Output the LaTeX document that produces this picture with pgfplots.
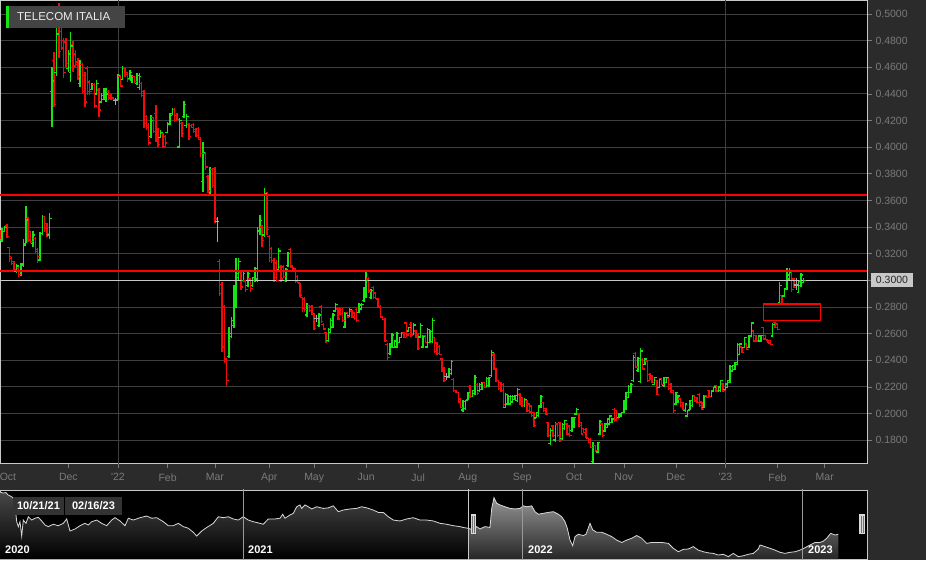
\documentclass[border=0pt]{standalone}
\usepackage{pgfplots}
\pgfplotsset{compat=1.18}
\usepackage{pgfplotstable}
\usepackage{fontspec}
\setmainfont{Liberation Sans}

\definecolor{bg}{HTML}{2B2B2B}
\definecolor{gridc}{HTML}{3E3E3E}
\definecolor{framec}{HTML}{C8C8C8}
\definecolor{upc}{RGB}{20,230,20}
\definecolor{dnc}{RGB}{245,10,10}
\definecolor{flc}{HTML}{A8A8A8}
\definecolor{tickc}{HTML}{7A7A7A}
\definecolor{titlebg}{HTML}{444444}
\definecolor{labbg}{HTML}{C8C8C8}
\definecolor{navline}{HTML}{D8D8D8}
\definecolor{sepc}{HTML}{9A9A9A}
\definecolor{datebg}{HTML}{333333}

\pgfdeclareplotmark{otick}{\pgfpathmoveto{\pgfqpoint{-2.2pt}{0pt}}\pgfpathlineto{\pgfqpoint{0pt}{0pt}}\pgfusepathqstroke}
\pgfdeclareplotmark{ctick}{\pgfpathmoveto{\pgfqpoint{0pt}{0pt}}\pgfpathlineto{\pgfqpoint{2.2pt}{0pt}}\pgfusepathqstroke}

% #1 = lower:upper bound for the kind column, #2 = colour
\newcommand{\ohlc}[2]{%
  \addplot[draw=none, mark=none, restrict expr to domain={\thisrow{k}}{#1},
    error bars/.cd, y dir=plus, y explicit, error mark=none,
    error bar style={draw=#2, line width=1.4pt}]
    table[x=i, y=l, y error expr=\thisrow{h}-\thisrow{l}] {\bars};
  \addplot[only marks, mark=otick, draw=#2, mark options={solid, draw=#2, line width=1.3pt},
    restrict expr to domain={\thisrow{k}}{#1}]
    table[x=i, y=o] {\bars};
  \addplot[only marks, mark=ctick, draw=#2, mark options={solid, draw=#2, line width=1.3pt},
    restrict expr to domain={\thisrow{k}}{#1}]
    table[x=i, y=c] {\bars};
}

% daily bars: index (0 = 21 Oct 2021), open, high, low, close, kind (1 up, -1 down, 0 unchanged)
\pgfplotstableread{
i o h l c k
0 .3366 .3378 .3303 .3316 -1
1 .3303 .3391 .3291 .3366 1
2 .3366 .3408 .3366 .3398 1
3 .3408 .3423 .3316 .3328 -1
4 .3248 .3248 .3141 .3178 -1
5 .3166 .3178 .3116 .3128 -1
6 .3141 .3148 .3066 .3078 -1
7 .3066 .3123 .3058 .3108 1
8 .3091 .3098 .3023 .3041 -1
9 .3041 .3133 .3033 .3123 1
10 .3116 .3308 .3103 .3266 1
11 .3278 .3558 .3278 .3453 1
12 .3466 .3473 .3286 .3303 -1
13 .3366 .3373 .3278 .3291 -1
14 .3278 .3373 .3248 .3341 1
15 .3316 .3328 .3203 .3218 -1
16 .3233 .3241 .3133 .3178 -1
17 .3153 .3366 .3148 .3353 1
18 .3353 .3491 .3341 .3478 1
19 .3478 .3478 .3366 .3391 -1
20 .3428 .3433 .3328 .3353 -1
21 .3341 .3508 .3308 .3466 1
22 .4420 .4605 .4149 .4497 1
23 .4650 .4717 .4299 .4320 -1
24 .4560 .4917 .4534 .4850 1
25 .4950 .5085 .4667 .4720 -1
26 .4870 .4892 .4730 .4745 -1
27 .4800 .4817 .4517 .4560 -1
28 .4790 .4817 .4605 .4630 -1
29 .4590 .4730 .4567 .4700 1
30 .4560 .4862 .4492 .4760 1
31 .4770 .4800 .4567 .4610 -1
32 .4700 .4730 .4605 .4620 -1
33 .4640 .4667 .4504 .4530 -1
34 .4480 .4655 .4454 .4620 1
35 .4620 .4630 .4404 .4420 -1
36 .4540 .4567 .4304 .4340 -1
37 .4590 .4612 .4392 .4420 -1
38 .4490 .4504 .4392 .4420 -1
39 .4435 .4479 .4429 .4470 1
40 .4470 .4479 .4292 .4310 -1
41 .4400 .4504 .4392 .4480 1
42 .4430 .4442 .4229 .4280 -1
43 .4340 .4404 .4329 .4390 1
44 .4360 .4442 .4354 .4420 1
45 .4360 .4442 .4342 .4400 1
46 .4420 .4429 .4354 .4370 -1
47 .4390 .4397 .4354 .4365 -1
48 .4375 .4380 .4354 .4360 -1
49 .4350 .4367 .4317 .4350 0
50 .4360 .4549 .4354 .4540 1
51 .4530 .4542 .4449 .4460 -1
52 .4510 .4609 .4504 .4590 1
53 .4590 .4592 .4530 .4545 -1
54 .4560 .4567 .4492 .4510 -1
55 .4515 .4580 .4504 .4560 1
56 .4500 .4542 .4480 .4530 1
57 .4530 .4535 .4480 .4495 -1
58 .4480 .4555 .4467 .4540 1
59 .4450 .4555 .4429 .4530 1
60 .4480 .4492 .4379 .4390 -1
61 .4420 .4429 .4141 .4180 -1
62 .4230 .4241 .4129 .4150 -1
63 .4160 .4179 .4016 .4030 -1
64 .4080 .4241 .4066 .4200 1
65 .4220 .4229 .4104 .4120 -1
66 .4250 .4317 .4041 .4060 -1
67 .4130 .4141 .4004 .4020 -1
68 .4070 .4129 .4066 .4110 1
69 .4100 .4104 .3991 .4000 -1
70 .4080 .4091 .4004 .4030 -1
71 .4110 .4191 .4104 .4180 1
72 .4170 .4254 .4166 .4240 1
73 .4250 .4292 .4242 .4285 1
74 .4285 .4292 .4191 .4200 -1
75 .4240 .4254 .4204 .4210 -1
76 .4000 .4216 .3990 .4200 1
77 .4180 .4192 .4079 .4100 -1
78 .4230 .4347 .4217 .4320 1
79 .4160 .4247 .4147 .4230 1
80 .4170 .4179 .4054 .4080 -1
81 .4165 .4172 .4142 .4150 -1
82 .4170 .4179 .4104 .4120 -1
83 .4135 .4142 .4079 .4090 -1
84 .4140 .4154 .4054 .4070 -1
85 .4060 .4072 .3929 .3950 -1
86 .3740 .4042 .3666 .3960 1
87 .3950 .3967 .3829 .3850 -1
88 .3780 .3791 .3654 .3670 -1
89 .3670 .3854 .3641 .3830 1
90 .3830 .3842 .3691 .3710 -1
91 .3840 .3854 .3428 .3460 -1
92 .3440 .3478 .3291 .3440 0
93 .3140 .3158 .2883 .2900 -1
94 .2970 .2990 .2465 .2500 -1
95 .2800 .2815 .2378 .2410 -1
96 .2390 .2400 .2203 .2250 -1
97 .2430 .2653 .2415 .2600 1
98 .2580 .2728 .2565 .2700 1
99 .2660 .2965 .2640 .2930 1
100 .2800 .3165 .2790 .3050 1
101 .3020 .3165 .3003 .3140 1
102 .3060 .3078 .2928 .2950 -1
103 .3000 .3065 .2990 .3050 1
104 .2995 .3003 .2915 .2930 -1
105 .2960 .3078 .2950 .3050 1
106 .3010 .3015 .2915 .2940 -1
107 .2960 .3028 .2953 .3020 1
108 .3000 .3103 .2990 .3090 1
109 .3010 .3403 .2990 .3370 1
110 .3370 .3491 .3341 .3450 1
111 .3400 .3416 .3253 .3300 -1
112 .3340 .3691 .3328 .3650 1
113 .3640 .3666 .3341 .3380 -1
114 .3330 .3341 .3141 .3170 -1
115 .3240 .3253 .3128 .3150 -1
116 .3150 .3166 .2990 .3020 -1
117 .3130 .3153 .2990 .3000 -1
118 .3080 .3241 .3065 .3220 1
119 .3100 .3115 .2990 .3010 -1
120 .3100 .3115 .3015 .3030 -1
121 .3000 .3090 .2990 .3080 1
122 .3110 .3216 .3103 .3200 1
123 .3230 .3241 .3090 .3110 -1
124 .3100 .3103 .3078 .3085 -1
125 .3080 .3090 .2978 .2990 -1
126 .3030 .3040 .2978 .2985 -1
127 .2975 .2978 .2878 .2890 -1
128 .2870 .2878 .2765 .2790 -1
129 .2860 .2878 .2765 .2780 -1
130 .2740 .2828 .2728 .2810 1
131 .2810 .2815 .2765 .2775 -1
132 .2805 .2815 .2740 .2750 -1
133 .2745 .2752 .2627 .2640 -1
134 .2715 .2740 .2690 .2715 0
135 .2660 .2752 .2652 .2740 1
136 .2800 .2815 .2677 .2690 -1
137 .2670 .2677 .2627 .2635 -1
138 .2610 .2615 .2527 .2540 -1
139 .2550 .2640 .2540 .2630 1
140 .2610 .2715 .2602 .2700 1
141 .2650 .2752 .2640 .2740 1
142 .2770 .2828 .2765 .2820 1
143 .2785 .2790 .2702 .2710 -1
144 .2785 .2790 .2740 .2750 -1
145 .2780 .2790 .2690 .2700 -1
146 .2650 .2765 .2640 .2750 1
147 .2760 .2765 .2715 .2725 -1
148 .2735 .2790 .2727 .2780 1
149 .2770 .2777 .2715 .2725 -1
150 .2755 .2765 .2702 .2715 -1
151 .2780 .2790 .2689 .2700 -1
152 .2760 .2827 .2752 .2815 1
153 .2785 .2827 .2777 .2820 1
154 .2850 .2952 .2840 .2940 1
155 .2900 .3065 .2865 .3000 1
156 .3010 .3027 .2902 .2920 -1
157 .2870 .2932 .2857 .2925 1
158 .2945 .2957 .2857 .2870 -1
159 .2905 .2914 .2857 .2865 -1
160 .2860 .2864 .2789 .2795 -1
161 .2805 .2814 .2714 .2725 -1
162 .2725 .2727 .2702 .2705 -1
163 .2705 .2714 .2539 .2550 -1
164 .2520 .2527 .2401 .2420 -1
165 .2450 .2527 .2440 .2510 1
166 .2500 .2602 .2489 .2590 1
167 .2495 .2552 .2489 .2545 1
168 .2500 .2614 .2489 .2600 1
169 .2535 .2577 .2527 .2570 1
170 .2570 .2614 .2564 .2605 1
171 .2605 .2614 .2564 .2570 -1
172 .2680 .2689 .2577 .2590 -1
173 .2620 .2652 .2614 .2645 1
174 .2670 .2689 .2577 .2590 -1
175 .2595 .2677 .2589 .2665 1
176 .2620 .2627 .2564 .2570 -1
177 .2595 .2602 .2476 .2490 -1
178 .2575 .2677 .2564 .2660 1
179 .2500 .2589 .2489 .2580 1
180 .2585 .2589 .2527 .2535 -1
181 .2500 .2639 .2489 .2630 1
182 .2535 .2627 .2527 .2615 1
183 .2540 .2714 .2527 .2700 1
184 .2570 .2577 .2452 .2465 -1
185 .2530 .2539 .2439 .2450 -1
186 .2505 .2514 .2439 .2445 -1
187 .2410 .2414 .2314 .2325 -1
188 .2345 .2351 .2238 .2250 -1
189 .2275 .2301 .2251 .2275 0
190 .2270 .2339 .2264 .2330 1
191 .2300 .2401 .2289 .2390 1
192 .2255 .2264 .2163 .2175 -1
193 .2172 .2176 .2151 .2155 -1
194 .2158 .2163 .2076 .2085 -1
195 .2108 .2113 .2038 .2045 -1
196 .2025 .2101 .2013 .2090 1
197 .2035 .2101 .2026 .2095 1
198 .2105 .2163 .2101 .2155 1
199 .2205 .2214 .2113 .2125 -1
200 .2130 .2176 .2126 .2170 1
201 .2150 .2289 .2139 .2270 1
202 .2220 .2226 .2139 .2150 -1
203 .2170 .2226 .2163 .2215 1
204 .2180 .2239 .2176 .2230 1
205 .2235 .2239 .2189 .2195 -1
206 .2195 .2276 .2189 .2265 1
207 .2210 .2276 .2201 .2270 1
208 .2285 .2476 .2276 .2460 1
209 .2440 .2451 .2326 .2340 -1
210 .2335 .2339 .2239 .2250 -1
211 .2245 .2251 .2176 .2185 -1
212 .2235 .2239 .2163 .2170 -1
213 .2215 .2226 .2051 .2065 -1
214 .2045 .2151 .2038 .2140 1
215 .2070 .2138 .2063 .2130 1
216 .2070 .2138 .2063 .2125 1
217 .2085 .2138 .2076 .2130 1
218 .2105 .2138 .2101 .2135 1
219 .2095 .2189 .2089 .2180 1
220 .2145 .2151 .2063 .2075 -1
221 .2120 .2126 .2051 .2060 -1
222 .2058 .2113 .2051 .2105 1
223 .2095 .2101 .2013 .2020 -1
224 .2070 .2076 .2001 .2010 -1
225 .2055 .2064 .1976 .1985 -1
226 .2005 .2013 .1901 .1910 -1
227 .1965 .2013 .1963 .2005 1
228 .1985 .2064 .1976 .2055 1
229 .2045 .2138 .2038 .2130 1
230 .2080 .2088 .2013 .2020 -1
231 .2035 .2038 .1988 .1995 -1
232 .1930 .1938 .1826 .1835 -1
233 .1775 .1888 .1763 .1870 1
234 .1905 .1913 .1826 .1835 -1
235 .1800 .1938 .1788 .1925 1
236 .1920 .1926 .1826 .1835 -1
237 .1930 .1938 .1788 .1800 -1
238 .1810 .1926 .1800 .1915 1
239 .1885 .1951 .1876 .1945 1
240 .1920 .1926 .1838 .1845 -1
241 .1905 .1913 .1826 .1835 -1
242 .1870 .1976 .1863 .1965 1
243 .1895 .1976 .1888 .1970 1
244 .1995 .2038 .1988 .2030 1
245 .1995 .2001 .1901 .1910 -1
246 .1930 .1938 .1838 .1845 -1
247 .1885 .1888 .1851 .1855 -1
248 .1880 .1888 .1813 .1820 -1
249 .1810 .1813 .1775 .1780 -1
250 .1805 .1813 .1738 .1745 -1
251 .1640 .1788 .1625 .1760 1
252 .1758 .1763 .1713 .1720 -1
253 .1710 .1788 .1700 .1780 1
254 .1845 .1951 .1838 .1940 1
255 .1920 .1926 .1826 .1835 -1
256 .1868 .1926 .1863 .1920 1
257 .1895 .1963 .1888 .1958 1
258 .1920 .1988 .1913 .1980 1
259 .1930 .1963 .1926 .1958 1
260 .2030 .2038 .1938 .1950 -1
261 .2020 .2026 .1951 .1960 -1
262 .1968 .2001 .1963 .1995 1
263 .1980 .2013 .1976 .2008 1
264 .2005 .2101 .2001 .2095 1
265 .2030 .2164 .2026 .2155 1
266 .2120 .2214 .2113 .2205 1
267 .2160 .2226 .2151 .2220 1
268 .2245 .2439 .2239 .2420 1
269 .2450 .2464 .2339 .2350 -1
270 .2325 .2426 .2314 .2415 1
271 .2240 .2489 .2226 .2470 1
272 .2405 .2414 .2326 .2335 -1
273 .2368 .2414 .2364 .2408 1
274 .2395 .2401 .2239 .2250 -1
275 .2295 .2301 .2251 .2258 -1
276 .2285 .2289 .2226 .2232 -1
277 .2220 .2276 .2214 .2270 1
278 .2245 .2251 .2138 .2145 -1
279 .2195 .2264 .2189 .2258 1
280 .2260 .2264 .2214 .2220 -1
281 .2210 .2276 .2201 .2270 1
282 .2232 .2276 .2226 .2272 1
283 .2260 .2264 .2176 .2185 -1
284 .2220 .2226 .2151 .2158 -1
285 .2170 .2176 .2001 .2020 -1
286 .2070 .2164 .2064 .2155 1
287 .2082 .2138 .2076 .2132 1
288 .2108 .2113 .2051 .2058 -1
289 .2082 .2088 .2026 .2032 -1
290 .2020 .2076 .2013 .2070 1
291 .1982 .2026 .1976 .2020 1
292 .2030 .2101 .2026 .2095 1
293 .2058 .2138 .2051 .2130 1
294 .2132 .2138 .2088 .2094 -1
295 .2120 .2126 .2076 .2082 -1
296 .2145 .2151 .2051 .2060 -1
297 .2085 .2089 .2026 .2032 -1
298 .2045 .2139 .2039 .2132 1
299 .2135 .2139 .2114 .2118 -1
300 .2172 .2176 .2126 .2130 -1
301 .2130 .2176 .2126 .2172 1
302 .2168 .2201 .2164 .2198 1
303 .2210 .2214 .2164 .2168 -1
304 .2168 .2201 .2164 .2198 1
305 .2170 .2251 .2164 .2245 1
306 .2222 .2226 .2164 .2170 -1
307 .2180 .2226 .2176 .2222 1
308 .2195 .2251 .2189 .2248 1
309 .2232 .2364 .2226 .2355 1
310 .2320 .2364 .2314 .2358 1
311 .2330 .2389 .2326 .2385 1
312 .2370 .2527 .2364 .2520 1
313 .2445 .2527 .2439 .2522 1
314 .2498 .2502 .2452 .2458 -1
315 .2495 .2577 .2489 .2570 1
316 .2522 .2527 .2477 .2482 -1
317 .2495 .2589 .2489 .2580 1
318 .2582 .2689 .2577 .2680 1
319 .2620 .2627 .2539 .2545 -1
320 .2585 .2589 .2539 .2545 -1
321 .2545 .2589 .2539 .2582 1
322 .2545 .2589 .2539 .2585 1
323 .2645 .2652 .2552 .2560 -1
324 .2585 .2589 .2552 .2556 -1
325 .2550 .2552 .2527 .2530 -1
326 .2548 .2552 .2515 .2520 -1
327 .2582 .2677 .2577 .2670 1
328 .2685 .2690 .2640 .2645 -1
329 .2672 .2677 .2627 .2632 -1
330 .2835 .2990 .2827 .2960 1
331 .2885 .2890 .2815 .2822 -1
332 .2882 .2940 .2877 .2935 1
333 .2935 .3090 .2927 .3040 1
334 .3010 .3090 .3002 .3060 1
335 .3070 .3077 .2915 .2930 -1
336 .3010 .3015 .2940 .2945 -1
337 .2965 .3015 .2927 .2965 0
338 .2910 .3002 .2902 .2995 1
339 .2960 .3052 .2952 .3040 1
340 .2982 .3015 .2977 .3000 1
}\bars

% navigator closes (x = position along the navigator, y = price)
\pgfplotstableread{
x y
0 .521
3 .515
6 .518
8 .505
10 .500
13 .490
15 .450
16.7 .358
18.3 .331
20 .358
21.7 .279
23.3 .367
26 .349
28.3 .385
31.7 .367
35 .377
38.3 .382
41.7 .362
45 .340
48.3 .331
53.3 .344
58.3 .336
63.3 .349
66.7 .373
70 .307
75 .318
80 .336
85 .349
88.3 .340
91.7 .358
96.7 .367
101.7 .349
106.7 .336
111.7 .367
115 .380
120 .362
125 .336
128.3 .377
133.3 .367
140 .380
146.7 .389
151.7 .377
156.7 .380
163.3 .358
168.3 .336
173.3 .336
178.3 .349
183.3 .331
188.3 .322
193.3 .300
196.7 .279
201.7 .307
206.7 .326
213.3 .349
218.3 .385
223.3 .380
228.3 .385
233.3 .373
238.3 .367
243.3 .385
248.3 .367
253.3 .358
260 .349
263.3 .344
268.3 .373
275 .373
280 .377
282.7 .399
285 .377
290 .395
293.3 .404
296.7 .440
300 .450
301.7 .431
305 .450
308.3 .440
311.7 .428
316.7 .440
323.3 .431
328.3 .434
333.3 .445
338.3 .413
343.3 .422
350 .428
356.7 .431
361.7 .440
366.7 .434
373.3 .422
378.3 .409
383.3 .409
388.3 .385
393.3 .367
400 .362
406.7 .373
413.3 .380
420 .367
426.7 .367
433.3 .362
440 .349
446.7 .344
453.3 .336
460 .331
463.3 .326
468 .322
}\navA

\pgfplotstableread{
x y
468 .322
473.3 .313
476.7 .331
480 .318
485 .331
490 .326
491.7 .431
494 .490
496.7 .459
500 .450
505 .440
510 .431
515 .428
520 .431
523.3 .445
526.7 .440
531.7 .445
535 .413
538.3 .399
543.3 .404
548.3 .409
553.3 .413
558.3 .399
561.7 .385
565 .358
567.3 .322
570 .257
572.7 .226
575 .276
578.3 .289
583.3 .282
586 .289
590 .349
592.7 .313
596.7 .300
601.7 .300
606.7 .289
611.7 .276
616.7 .257
621.7 .244
626.7 .257
631.7 .267
636.7 .282
641.7 .267
646.7 .239
651.7 .244
656.7 .244
661.7 .244
668.3 .239
673.3 .212
678.3 .193
683.3 .206
688.3 .208
693.3 .221
698.3 .202
703.3 .193
708.3 .187
713.3 .184
718.3 .175
723.3 .179
728.3 .166
733.3 .184
738.3 .166
743.3 .171
748.3 .179
753.3 .184
758.3 .208
760 .230
765 .221
770 .212
775 .202
780 .190
785 .184
790 .190
795 .193
800 .202
805 .215
810 .230
815 .244
820 .244
823.3 .251
826.7 .267
830.7 .294
835 .285
838.3 .289
}\navB

\begin{document}
\begin{tikzpicture}
\useasboundingbox (0,0) rectangle (926pt,560pt);
\fill[bg] (0,0) rectangle (926pt,560pt);

\begin{axis}[
  name=main,
  at={(0pt,97pt)}, anchor=south west,
  width=867pt, height=463pt, scale only axis,
  xmin=0.08, xmax=366.9, ymin=0.1628, ymax=0.5105,
  axis background/.style={fill=black},
  axis line style={draw=framec, line width=0.8pt},
  ytick={0.18,0.2,0.22,0.24,0.26,0.28,0.3,0.32,0.34,0.36,0.38,0.4,0.42,0.44,0.46,0.48,0.5},
  ytick pos=right, yticklabel pos=right,
  xtick pos=bottom,
  ymajorgrids, grid style={gridc, line width=0.8pt},
  tick align=outside, major tick length=5pt,
  tick style={tickc, line width=0.6pt},
  yticklabel style={/pgf/number format/.cd, fixed, fixed zerofill, precision=4, assume math mode=true, /tikz/.cd, font=\fontsize{10.5}{12}\selectfont, text=tickc},
  xtick={29,50,71,91,114,133,155,177,198,221,243,264,286,307,329,349},
  xticklabels={Dec,{\textquotesingle22},Feb,Mar,Apr,May,Jun,Jul,Aug,Sep,Oct,Nov,Dec,{\textquotesingle23},Feb,Mar},
  xticklabel style={font=\fontsize{10.5}{12}\selectfont, text=tickc, yshift=-2pt},
  extra x ticks={3.45}, extra x tick labels={Oct},
  extra x tick style={tick style={draw=none}},
]
\addplot[gridc, line width=0.8pt] coordinates {(50,0.15) (50,0.52)};
\addplot[gridc, line width=0.8pt] coordinates {(307,0.15) (307,0.52)};
\ohlc{0.5:1.5}{upc}
\ohlc{-1.5:-0.5}{dnc}
\ohlc{-0.5:0.5}{flc}
\addplot[red, line width=1.2pt] coordinates {(0,0.364) (367,0.364)};
\addplot[red, line width=1.2pt] coordinates {(0,0.307) (367,0.307)};
\addplot[framec, line width=1pt] coordinates {(0,0.3) (367,0.3)};
\draw[red, line width=1.5pt] (axis cs:323,0.2700) rectangle (axis cs:347.3,0.2822);
\coordinate (lab30) at (axis cs:366.9,0.3);
\end{axis}

\node[anchor=west, fill=labbg, text=black!85, inner xsep=5pt, inner ysep=0pt, minimum height=14pt,
  font=\fontsize{10.5}{12}\selectfont] at ([xshift=3.7pt]lab30) {0.3000};

% title box
\fill[titlebg] (6pt,554pt) rectangle (125pt,532.3pt);
\fill[upc] (6pt,554pt) rectangle (9pt,532.3pt);
\node[anchor=west, text=white!92!black, inner sep=0pt, font=\fontsize{11.5}{13}\selectfont] at (17pt,543.2pt) {TELECOM ITALIA};

% navigator
\begin{axis}[
  at={(0pt,1pt)}, anchor=south west,
  width=867pt, height=69pt, scale only axis,
  xmin=0, xmax=867, ymin=0.1532, ymax=0.532,
  axis background/.style={fill=black},
  axis line style={draw=framec, line width=0.8pt},
  ticks=none,
]
\addplot[draw=none, top color=black!72, bottom color=black] table[x=x,y=y] {\navA} |- (axis cs:0,0.1532) -- cycle;
\addplot[draw=none, top color=black!42, bottom color=black!85] table[x=x,y=y] {\navB} |- (axis cs:468,0.1532) -- cycle;
\addplot[navline, line width=0.8pt] table[x=x,y=y] {\navA};
\addplot[navline, line width=0.8pt] table[x=x,y=y] {\navB};
\addplot[sepc, line width=0.8pt] coordinates {(243,0.1) (243,0.6)};
\addplot[sepc, line width=0.8pt] coordinates {(522,0.1) (522,0.6)};
\addplot[sepc, line width=0.8pt] coordinates {(802,0.1) (802,0.6)};
\addplot[framec, line width=0.8pt] coordinates {(468,0.1) (468,0.6)};
\end{axis}

% navigator handles
\fill[white!85!black] (470.5pt,25.7pt) rectangle (475.7pt,45.7pt);
\draw[black!55, line width=0.6pt] (472.2pt,27pt) -- (472.2pt,44.5pt) (474.0pt,27pt) -- (474.0pt,44.5pt);
\fill[white!85!black] (859.3pt,25.7pt) rectangle (864.5pt,45.7pt);
\draw[black!55, line width=0.6pt] (861pt,27pt) -- (861pt,44.5pt) (862.8pt,27pt) -- (862.8pt,44.5pt);

% year labels
\foreach \xx/\yy in {5/2020, 248/2021, 528/2022, 808/2023}
  \node[anchor=west, inner sep=0pt, text=white, font=\bfseries\fontsize{11}{13}\selectfont] at (\xx pt,10pt) {\yy};

% range labels
\fill[datebg] (13pt,45pt) rectangle (64pt,63pt);
\node[text=white, inner sep=0pt, font=\bfseries\fontsize{11}{13}\selectfont] at (38.5pt,54pt) {10/21/21};
\fill[datebg] (65pt,45pt) rectangle (122pt,63pt);
\node[text=white, inner sep=0pt, font=\bfseries\fontsize{11}{13}\selectfont] at (93.5pt,54pt) {02/16/23};
\end{tikzpicture}
\end{document}
